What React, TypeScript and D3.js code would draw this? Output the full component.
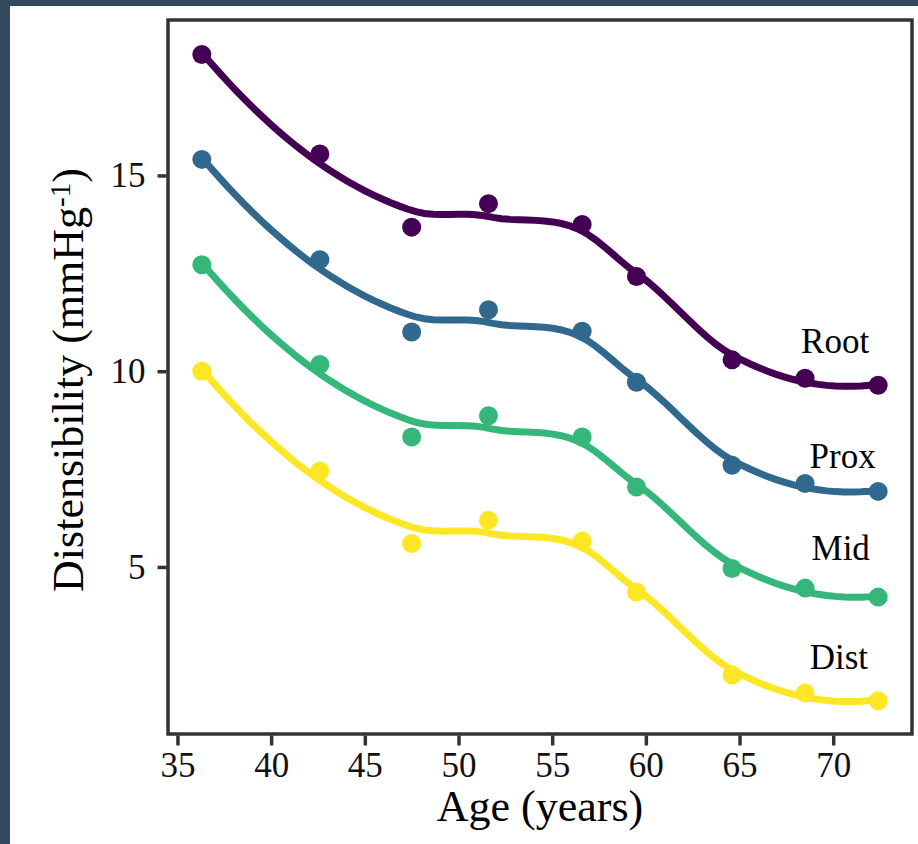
import React, { useRef, useEffect } from 'react';
import * as d3 from 'd3';

// values
const ages = [36.3, 42.6, 47.5, 51.6, 56.6, 59.5, 64.6, 68.5, 72.4];
const rootValues = [18.09, 15.55, 13.68, 14.28, 13.75, 12.42, 10.29, 9.82, 9.64];
const proxValues = [15.41, 12.85, 11.0, 11.57, 11.02, 9.72, 7.6, 7.13, 6.93];
const midValues = [12.72, 10.17, 8.32, 8.86, 8.32, 7.04, 4.96, 4.46, 4.23];
const distValues = [10.0, 7.45, 5.6, 6.19, 5.66, 4.36, 2.24, 1.78, 1.58];

const seriesNames = ['Root', 'Prox', 'Mid', 'Dist'];
const seriesColors = ['#440154', '#31688e', '#35b779', '#fde725'];
const labelAges = [70.1, 70.5, 70.4, 70.3];
const labelValues = [10.77, 7.81, 5.48, 2.68];

const xTicks = [35, 40, 45, 50, 55, 60, 65, 70];
const yTicks = [5, 10, 15];

// local quadratic fit at x0 -> [value, slope]
function localFit(xs: number[], ys: number[], x0: number, q: number): [number, number] {
  const d = xs.map(x => Math.abs(x - x0));
  const h = d.slice().sort((a, b) => a - b)[q - 1] || 1;
  let s0 = 0, s1 = 0, s2 = 0, s3 = 0, s4 = 0, t0 = 0, t1 = 0, t2 = 0;
  xs.forEach((x, i) => {
    const u = d[i] / h;
    if (u >= 1) return;
    const w = Math.pow(1 - u * u * u, 3);
    const dx = x - x0;
    s0 += w; s1 += w * dx; s2 += w * dx * dx; s3 += w * dx * dx * dx; s4 += w * dx * dx * dx * dx;
    t0 += w * ys[i]; t1 += w * dx * ys[i]; t2 += w * dx * dx * ys[i];
  });
  const det3 = (a: number[][]) =>
    a[0][0] * (a[1][1] * a[2][2] - a[1][2] * a[2][1]) -
    a[0][1] * (a[1][0] * a[2][2] - a[1][2] * a[2][0]) +
    a[0][2] * (a[1][0] * a[2][1] - a[1][1] * a[2][0]);
  const M = [[s0, s1, s2], [s1, s2, s3], [s2, s3, s4]];
  const D = det3(M);
  const a = det3([[t0, s1, s2], [t1, s2, s3], [t2, s3, s4]]) / D;
  const b = det3([[s0, t0, s2], [s1, t1, s3], [s2, t2, s4]]) / D;
  return [a, b];
}

// loess as R does it by default: fits at kd-tree vertices, cubic Hermite in between
function loess(xs: number[], ys: number[], span = 0.75, n = 80) {
  const q = Math.floor(xs.length * span);
  const fc = Math.floor(xs.length * span * 0.2);
  const sorted = xs.slice().sort((a, b) => a - b);
  const [lo, hi] = [sorted[0], sorted[sorted.length - 1]];
  const mu = 0.005 * (hi - lo);
  const verts = [lo - mu, hi + mu];
  const build = (l: number, u: number, vl: number, vu: number) => {
    if (u - l + 1 <= fc) return;
    const m = Math.floor((l + u) / 2);
    const s = sorted[m];
    if (s === vl || s === vu) return;
    verts.push(s);
    build(l, m, vl, s);
    build(m + 1, u, s, vu);
  };
  build(0, sorted.length - 1, lo - mu, hi + mu);
  verts.sort((a, b) => a - b);
  const fits = verts.map(v => localFit(xs, ys, v, q));

  const out: [number, number][] = [];
  for (let k = 0; k < n; k++) {
    const x0 = lo + ((hi - lo) * k) / (n - 1);
    let j = d3.bisectRight(verts, x0) - 1;
    j = Math.max(0, Math.min(verts.length - 2, j));
    const v0 = verts[j], v1 = verts[j + 1], hh = v1 - v0;
    const t = (x0 - v0) / hh;
    const [y0, m0] = fits[j];
    const [y1, m1] = fits[j + 1];
    const yv =
      (2 * t ** 3 - 3 * t ** 2 + 1) * y0 +
      (t ** 3 - 2 * t ** 2 + t) * hh * m0 +
      (-2 * t ** 3 + 3 * t ** 2) * y1 +
      (t ** 3 - t ** 2) * hh * m1;
    out.push([x0, yv]);
  }
  return out;
}

export default function App() {
  const svgRef = useRef<SVGSVGElement>(null);

  useEffect(() => {
    const svg = d3.select(svgRef.current);
    svg.selectAll('*').remove();

    const W = 918, H = 844;
    const font = '"Liberation Serif", "Times New Roman", serif';
    const panel = { left: 168, right: 912, top: 20, bottom: 734 };

    svg.append('rect').attr('width', W).attr('height', H).attr('fill', '#34495e');
    svg.append('rect').attr('x', 10).attr('y', 6).attr('width', W - 10).attr('height', H - 6).attr('fill', '#fff');

    const series = [rootValues, proxValues, midValues, distValues];
    const smooths = series.map(v => loess(ages, v));

    const xExt = d3.extent(ages) as [number, number];
    const allY = series.flat().concat(smooths.flatMap(s => s.map(p => p[1])));
    const yExt = d3.extent(allY) as [number, number];
    const xPad = (xExt[1] - xExt[0]) * 0.05;
    const yPad = (yExt[1] - yExt[0]) * 0.05;

    const x = d3.scaleLinear().domain([xExt[0] - xPad, xExt[1] + xPad]).range([panel.left, panel.right]);
    const y = d3.scaleLinear().domain([yExt[0] - yPad, yExt[1] + yPad]).range([panel.bottom, panel.top]);

    const line = d3.line<[number, number]>()
      .x(d => x(d[0]))
      .y(d => y(d[1]));

    // points
    series.forEach((vals, si) => {
      svg.append('g')
        .selectAll('circle')
        .data(vals)
        .enter().append('circle')
        .attr('cx', (_, i) => x(ages[i]))
        .attr('cy', d => y(d))
        .attr('r', 9.5)
        .attr('fill', seriesColors[si]);
    });

    // smooth lines
    smooths.forEach((pts, si) => {
      svg.append('path')
        .attr('d', line(pts))
        .attr('fill', 'none')
        .attr('stroke', seriesColors[si])
        .attr('stroke-width', 7)
        .attr('stroke-linecap', 'round');
    });

    // series labels
    svg.append('g')
      .selectAll('text')
      .data(seriesNames)
      .enter().append('text')
      .attr('x', (_, i) => x(labelAges[i]))
      .attr('y', (_, i) => y(labelValues[i]))
      .attr('dy', '0.33em')
      .attr('text-anchor', 'middle')
      .style('font-family', font)
      .style('font-size', '35px')
      .style('fill', '#000')
      .text(d => d);

    // panel border
    svg.append('rect')
      .attr('x', panel.left)
      .attr('y', panel.top)
      .attr('width', panel.right - panel.left)
      .attr('height', panel.bottom - panel.top)
      .attr('fill', 'none')
      .attr('stroke', '#333')
      .attr('stroke-width', 3.5);

    // x axis
    const xAxis = svg.append('g')
      .attr('transform', `translate(0,${panel.bottom + 1.5})`)
      .call(d3.axisBottom(x).tickValues(xTicks).tickSize(10).tickPadding(7).tickFormat(d3.format('d')));
    xAxis.select('.domain').remove();
    xAxis.selectAll('line').attr('stroke', '#333').attr('stroke-width', 3.5);
    xAxis.selectAll('text')
      .style('font-family', font)
      .style('font-size', '35px')
      .style('fill', '#111');

    // y axis
    const yAxis = svg.append('g')
      .attr('transform', `translate(${panel.left - 1.5},0)`)
      .call(d3.axisLeft(y).tickValues(yTicks).tickSize(9).tickPadding(12).tickFormat(d3.format('d')));
    yAxis.select('.domain').remove();
    yAxis.selectAll('line').attr('stroke', '#333').attr('stroke-width', 3.5);
    yAxis.selectAll('text')
      .style('font-family', font)
      .style('font-size', '35px')
      .style('fill', '#111');

    // axis titles
    svg.append('text')
      .attr('x', (panel.left + panel.right) / 2)
      .attr('y', 821)
      .attr('text-anchor', 'middle')
      .style('font-family', font)
      .style('font-size', '44px')
      .style('fill', '#000')
      .text('Age (years)');

    const yTitle = svg.append('text')
      .attr('transform', `translate(83,${(panel.top + panel.bottom) / 2 + 3}) rotate(-90)`)
      .attr('text-anchor', 'middle')
      .style('font-family', font)
      .style('font-size', '44px')
      .style('fill', '#000');
    yTitle.append('tspan').text('Distensibility (mmHg');
    yTitle.append('tspan').attr('dy', '-0.45em').style('font-size', '29px').text('-1');
    yTitle.append('tspan').attr('dy', '0.3em').text(')');
  }, []);

  return (
    <svg
      ref={svgRef}
      width={918}
      height={844}
      style={{ position: 'absolute', left: 0, top: 0 }}
    />
  );
}
